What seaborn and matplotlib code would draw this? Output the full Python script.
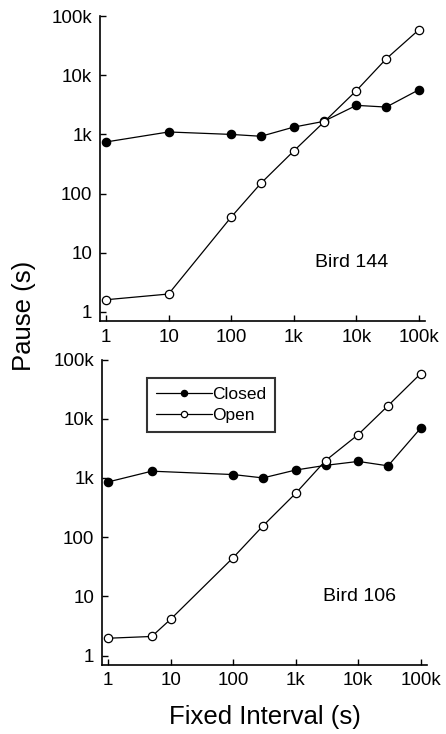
import matplotlib
matplotlib.use("Agg")
import matplotlib.pyplot as plt
import seaborn as sns
import pandas as pd
from matplotlib.ticker import NullLocator

# ---- data ----
fi_144 = [1, 10, 100, 300, 1000, 3000, 10000, 30000, 100000]
closed_144 = [745, 1100, 1000, 930, 1330, 1660, 3100, 2900, 5700]
open_144 = [1.6, 2.0, 40, 150, 525, 1600, 5500, 19000, 59000]

fi_106 = [1, 5, 10, 100, 300, 1000, 3000, 10000, 30000, 100000]
closed_106 = [855, 1300, None, 1140, 1000, 1360, 1630, 1900, 1600, 6950]
open_106 = [1.96, 2.1, 4.1, 45, 155, 550, 1960, 5400, 16600, 58000]

tick_vals = [1, 10, 100, 1000, 10000, 100000]
tick_labels = ["1", "10", "100", "1k", "10k", "100k"]

sns.set_style("ticks")
plt.rcParams["font.family"] = ["Liberation Sans", "DejaVu Sans"]
plt.rcParams["text.color"] = "black"
plt.rcParams["axes.labelcolor"] = "black"

fig = plt.figure(figsize=(4.46, 7.34), dpi=100)
ax1 = fig.add_axes([0.224, 0.5627, 0.729, 0.4153])
ax2 = fig.add_axes([0.2287, 0.0944, 0.7283, 0.4158])

def draw(ax, fi, closed, opn):
    dc = pd.DataFrame({"FI": fi, "Pause": closed}).dropna()
    do = pd.DataFrame({"FI": fi, "Pause": opn}).dropna()
    sns.lineplot(data=dc, x="FI", y="Pause", ax=ax, color="black", lw=0.9,
                 marker="o", markersize=6, markerfacecolor="black",
                 markeredgecolor="black", markeredgewidth=0.9,
                 estimator=None, sort=False, label="Closed")
    sns.lineplot(data=do, x="FI", y="Pause", ax=ax, color="black", lw=0.9,
                 marker="o", markersize=6, markerfacecolor="white",
                 markeredgecolor="black", markeredgewidth=0.9,
                 estimator=None, sort=False, label="Open")
    ax.set_xscale("log")
    ax.set_yscale("log")
    ax.set_xlim(0.8, 1.25e5)
    ax.set_ylim(0.7, 1e5)
    ax.set_xticks(tick_vals)
    ax.set_xticklabels(tick_labels)
    ax.set_yticks(tick_vals)
    ax.set_yticklabels(tick_labels)
    ax.xaxis.set_minor_locator(NullLocator())
    ax.yaxis.set_minor_locator(NullLocator())
    ax.tick_params(direction="in", length=4, width=1.0, labelsize=13.5,
                   colors="black", pad=5.5)
    ax.set_xlabel("")
    ax.set_ylabel("")
    for s in ["top", "right"]:
        ax.spines[s].set_visible(False)
    for s in ["left", "bottom"]:
        ax.spines[s].set_linewidth(1.2)
        ax.spines[s].set_color("black")

draw(ax1, fi_144, closed_144, open_144)
draw(ax2, fi_106, closed_106, open_106)

ax1.get_legend().remove()
leg = ax2.legend(loc="upper left", bbox_to_anchor=(0.14, 0.94), fontsize=12.5,
                 frameon=True, fancybox=False, edgecolor="black",
                 handlelength=3.2, handletextpad=0.0, markerscale=0.75,
                 borderpad=0.5, labelspacing=0.35, borderaxespad=0.0)
leg.get_frame().set_linewidth(1.5)
for t in leg.get_texts():
    t.set_color("black")

ax1.text(0.775, 0.193, "Bird 144", transform=ax1.transAxes, fontsize=14,
         ha="center", va="center", color="black")
ax2.text(0.792, 0.225, "Bird 106", transform=ax2.transAxes, fontsize=14,
         ha="center", va="center", color="black")

fig.text(0.054, 0.5695, "Pause (s)", rotation=90, ha="center", va="center",
         fontsize=18.5, color="black")
fig.text(0.594, 0.023, "Fixed Interval (s)", ha="center", va="center",
         fontsize=18.5, color="black")

fig.savefig("out.png", dpi=100)
